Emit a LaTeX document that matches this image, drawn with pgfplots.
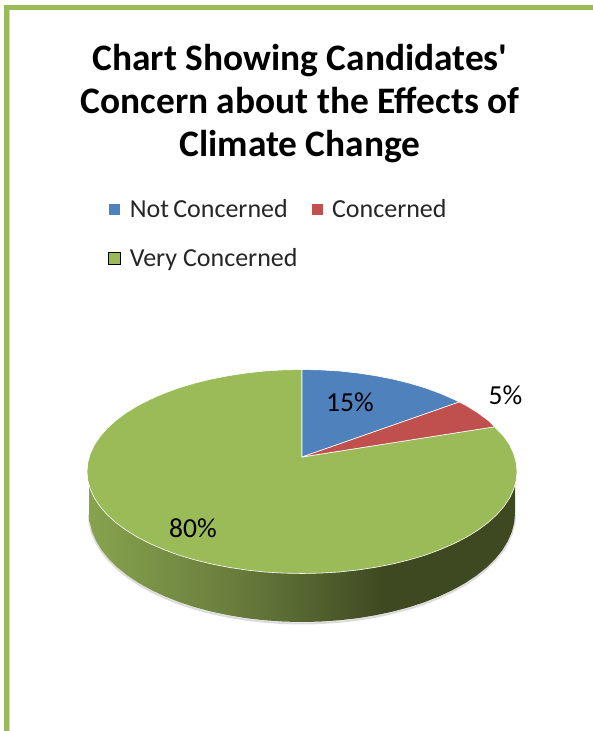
\documentclass[border=0pt]{standalone}
\usepackage{fontspec}
\setmainfont{Carlito}
\usepackage{pgfplots}
\usepackage{pgfplotstable}
\pgfplotsset{compat=1.18}
\definecolor{pieblue}{RGB}{79,129,189}
\definecolor{piered}{RGB}{192,80,77}
\definecolor{piegreen}{RGB}{155,187,89}
\definecolor{framegreen}{RGB}{155,187,89}
\definecolor{sidea}{RGB}{135,163,78}
\definecolor{sideb}{RGB}{104,124,60}
\definecolor{sidec}{RGB}{62,72,33}
\pgfdeclarehorizontalshading{sideshade}{100bp}{
  color(0bp)=(sidea); color(25bp)=(sidea); color(42.4bp)=(sideb); color(60bp)=(sidec); color(100bp)=(sidec)}
\pgfplotstableread{
x y
89 513
89.8 522.5
92.2 531.9
96.3 541.2
101.8 550.3
109 559.1
117.5 567.5
127.5 575.5
138.8 583.1
151.4 590.1
165.1 596.5
179.8 602.3
195.5 607.4
212 611.8
229.2 615.4
246.9 618.3
265 620.3
283.4 621.6
302 622
320.6 621.6
339 620.3
357.1 618.3
374.8 615.4
392 611.8
408.5 607.4
424.2 602.3
438.9 596.5
452.6 590.1
465.2 583.1
476.5 575.5
486.5 567.5
495 559.1
502.2 550.3
507.7 541.2
511.8 531.9
514.2 522.5
515 513
}\sidebottom
\begin{document}
\begin{tikzpicture}
\begin{axis}[
  hide axis, scale only axis, width=593pt, height=731pt,
  xmin=0, xmax=593, ymin=0, ymax=731, y dir=reverse,
  legend columns=2,
  legend cell align=left,
  legend style={at={(axis cs:108,197)}, anchor=north west, draw=none, fill=none,
    font=\fontsize{26}{30}\selectfont, row sep=26pt, inner sep=0pt, text=black!85,
    /tikz/every odd column/.style={column sep=7pt},
    /tikz/every even column/.style={column sep=11pt}},
]
% page background, keeps the picture at the reference's full size
\fill[white] (axis cs:0,0) rectangle (axis cs:593,731);
% frame
\draw[draw=none, fill=framegreen] (axis cs:4,5) rectangle (axis cs:593,10);
\draw[draw=none, fill=framegreen] (axis cs:4,5) rectangle (axis cs:9,731);
\draw[draw=none, fill=framegreen!50] (axis cs:9,10) rectangle (axis cs:10,731);
% soft shadow under the side
\addplot[forget plot, draw=black!14, line width=2pt, shift={(0pt,-1.5pt)}] table {\sidebottom};
% side wall
\addplot[forget plot, shading=sideshade, draw=none] coordinates {
(89,480) (89,513) (89.8,522.5) (92.2,531.9) (96.3,541.2) (101.8,550.3) (109,559.1) (117.5,567.5)
(127.5,575.5) (138.8,583.1) (151.4,590.1) (165.1,596.5) (179.8,602.3) (195.5,607.4) (212,611.8)
(229.2,615.4) (246.9,618.3) (265,620.3) (283.4,621.6) (302,622) (320.6,621.6) (339,620.3)
(357.1,618.3) (374.8,615.4) (392,611.8) (408.5,607.4) (424.2,602.3) (438.9,596.5) (452.6,590.1)
(465.2,583.1) (476.5,575.5) (486.5,567.5) (495,559.1) (502.2,550.3) (507.7,541.2) (511.8,531.9)
(514.2,522.5) (515,513) (515,480)
} -- cycle;
% green slice: 80%
\addplot[forget plot, fill=piegreen, draw=white, line width=0.6pt, line join=round] coordinates {
(302,457) (494.5,426.8) (504,436.6) (509.7,445.1) (513.7,453.8) (516.2,462.6) (517,471.5)
(516.2,480.4) (513.7,489.2) (509.7,497.9) (504,506.4) (496.9,514.6) (488.2,522.5) (478.1,530)
(466.7,537.1) (454,543.6) (440.2,549.6) (425.3,555.1) (409.5,559.8) (392.9,563.9) (375.5,567.3)
(357.6,570) (339.3,572) (320.7,573.1) (302,573.5) (283.3,573.1) (264.7,572) (246.4,570)
(228.5,567.3) (211.1,563.9) (194.5,559.8) (178.7,555.1) (163.8,549.6) (150,543.6) (137.3,537.1)
(125.9,530) (115.8,522.5) (107.1,514.6) (100,506.4) (94.3,497.9) (90.3,489.2) (87.8,480.4)
(87,471.5) (87.8,462.6) (90.3,453.8) (94.3,445.1) (100,436.6) (107.1,428.4) (115.8,420.5)
(125.9,413) (137.3,405.9) (150,399.4) (163.8,393.4) (178.7,387.9) (194.5,383.2) (211.1,379.1)
(228.5,375.7) (246.4,373) (264.7,371) (283.3,369.9) (302,369.5)
} -- cycle;
% blue slice: 15%
\addplot[fill=pieblue, draw=white, line width=0.6pt, line join=round,
  legend image code/.code={\path[fill=pieblue] (0pt,-6pt) rectangle (12pt,6pt);}] coordinates {
(302,457) (302,369.5) (320.7,369.9) (339.3,371) (357.6,373) (375.5,375.7) (392.9,379.1)
(409.5,383.2) (425.3,387.9) (440.2,393.4) (454,399.4) (459.2,402)
} -- cycle;
\addlegendentry{Not\,Concerned}
% red slice: 5%
\addplot[fill=piered, draw=white, line width=0.6pt, line join=round,
  legend image code/.code={\path[fill=piered] (0pt,-6pt) rectangle (12pt,6pt);}] coordinates {
(302,457) (459.2,402) (466.7,405.9) (478.1,413) (488.2,420.5) (494.5,426.8)
} -- cycle;
\addlegendentry{Concerned}
% legend key for the green slice
\addlegendimage{legend image code/.code={\path[fill=piegreen] (0pt,-6pt) rectangle (12pt,6pt);}}
\addlegendentry{Very Concerned}
% data labels
\node[font=\fontsize{27.5}{30}\selectfont] at (axis cs:350,402) {15\%};
\node[font=\fontsize{27.5}{30}\selectfont] at (axis cs:505.5,395) {5\%};
\node[font=\fontsize{27.5}{30}\selectfont] at (axis cs:193,528) {80\%};
% title
\node[font=\bfseries\fontsize{37.4}{43}\selectfont, align=center, anchor=north] at (axis cs:300,40.5)
  {Chart Showing Candidates\textquotesingle\\Concern about the Effects of\\Climate Change};
\end{axis}
\end{tikzpicture}
\end{document}
